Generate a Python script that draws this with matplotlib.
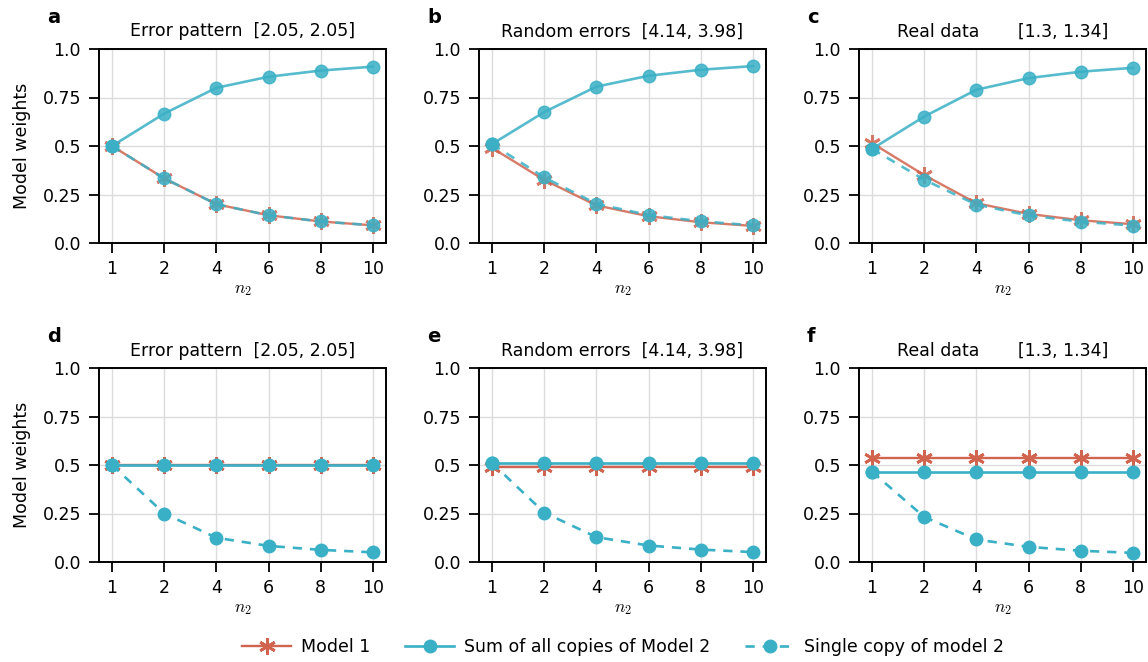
import matplotlib
matplotlib.use("Agg")
import matplotlib.pyplot as plt
from matplotlib.lines import Line2D

plt.rcParams['font.family'] = ['DejaVu Sans']
plt.rcParams['mathtext.fontset'] = 'cm'

n2_labels = ["1", "2", "4", "6", "8", "10"]
titles = ["Error pattern  [2.05, 2.05]", "Random errors  [4.14, 3.98]", "Real data       [1.3, 1.34]"]
letters = ["a", "b", "c", "d", "e", "f"]

# Row 1 (a, b, c)
a_model1 = [0.5, 0.333, 0.2, 0.143, 0.111, 0.091]
a_sum = [0.5, 0.667, 0.8, 0.857, 0.889, 0.909]
a_single = [0.5, 0.333, 0.2, 0.143, 0.111, 0.091]

b_model1 = [0.49, 0.325, 0.194, 0.138, 0.107, 0.088]
b_sum = [0.51, 0.675, 0.806, 0.862, 0.893, 0.912]
b_single = [0.51, 0.338, 0.202, 0.144, 0.112, 0.091]

c_model1 = [0.515, 0.35, 0.205, 0.15, 0.117, 0.097]
c_sum = [0.485, 0.652, 0.79, 0.85, 0.883, 0.903]
c_single = [0.485, 0.326, 0.198, 0.142, 0.11, 0.09]

# Row 2 (d, e, f)
d_model1 = [0.5, 0.5, 0.5, 0.5, 0.5, 0.5]
d_sum = [0.5, 0.5, 0.5, 0.5, 0.5, 0.5]
d_single = [0.5, 0.25, 0.125, 0.083, 0.0625, 0.05]

e_model1 = [0.49, 0.49, 0.49, 0.49, 0.49, 0.49]
e_sum = [0.51, 0.51, 0.51, 0.51, 0.51, 0.51]
e_single = [0.51, 0.255, 0.128, 0.085, 0.064, 0.051]

f_model1 = [0.535, 0.535, 0.535, 0.535, 0.535, 0.535]
f_sum = [0.465, 0.465, 0.465, 0.465, 0.465, 0.465]
f_single = [0.465, 0.232, 0.116, 0.078, 0.058, 0.047]

panels = [
    (a_model1, a_sum, a_single),
    (b_model1, b_sum, b_single),
    (c_model1, c_sum, c_single),
    (d_model1, d_sum, d_single),
    (e_model1, e_sum, e_single),
    (f_model1, f_sum, f_single),
]

RED = "#D0644E"
CYAN = "#3AB0C6"
FS = 12.5

W, H = 1148, 662
fig = plt.figure(figsize=(W / 100, H / 100), dpi=100)

lefts = [99, 479, 859]
tops = [49, 368]
aw, ah = 287, 194

x = list(range(len(n2_labels)))

for i, (m1, sm, sg) in enumerate(panels):
    r, c = divmod(i, 3)
    L = lefts[c]
    T = tops[r]
    ax = fig.add_axes([L / W, 1 - (T + ah) / H, aw / W, ah / H])
    alpha = 0.85 if r == 0 else 1.0
    ax.plot(x, m1, color=RED, lw=1.7, marker=(6, 2, 0), ms=12, mew=2.0, alpha=alpha, zorder=3)
    ax.plot(x, sm, color=CYAN, lw=1.9, marker='o', ms=9, alpha=alpha, zorder=4)
    ax.plot(x, sg, color=CYAN, lw=1.9, ls=(0, (3.5, 3)), marker='o', ms=9, alpha=alpha, zorder=5)
    ax.set_xlim(-0.25, 5.25)
    ax.set_ylim(0, 1)
    ax.set_xticks(x)
    ax.set_xticklabels(n2_labels)
    ax.set_yticks([0, 0.25, 0.5, 0.75, 1.0])
    ax.set_yticklabels(["0.0", "0.25", "0.5", "0.75", "1.0"])
    ax.grid(True, color="#dcdcdc", lw=1.0, zorder=0)
    ax.set_axisbelow(True)
    ax.tick_params(axis='both', labelsize=FS, length=7, width=1.3, direction='out')
    ax.tick_params(axis='x', pad=5)
    ax.tick_params(axis='y', pad=6)
    for s in ax.spines.values():
        s.set_linewidth(1.4)
    ax.set_title(titles[c], fontsize=FS, pad=9)
    ax.set_xlabel(r"$n_2$", fontsize=FS, labelpad=2)
    if c == 0:
        ax.set_ylabel("Model weights", fontsize=FS, labelpad=8)
    fig.text((L - 52) / W, 1 - (T - 26) / H, letters[i], fontsize=14, fontweight='bold',
             ha='left', va='baseline')

handles = [
    Line2D([], [], color=RED, lw=1.7, marker=(6, 2, 0), ms=12, mew=2.0),
    Line2D([], [], color=CYAN, lw=1.9, marker='o', ms=9),
    Line2D([], [], color=CYAN, lw=1.9, ls=(0, (3.5, 3)), marker='o', ms=9),
]
fig.legend(handles, ["Model 1", "Sum of all copies of Model 2", "Single copy of model 2"],
           loc='center', bbox_to_anchor=(0.543, 1 - 647 / H), ncol=3, frameon=False,
           fontsize=FS, handlelength=2.8, columnspacing=2.0, handletextpad=0.6)

fig.savefig("out.png", dpi=100)
